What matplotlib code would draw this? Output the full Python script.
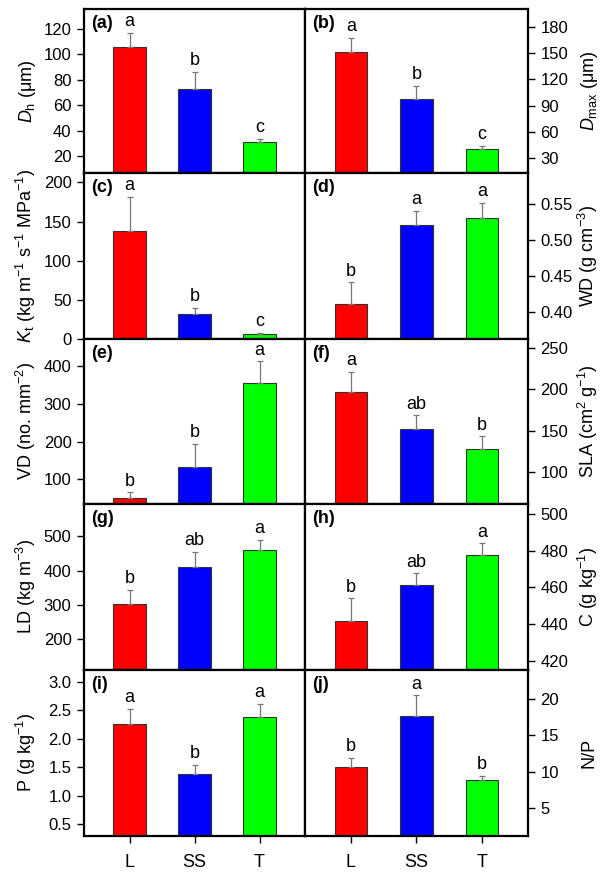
import numpy as np
import matplotlib
matplotlib.use('Agg')
import matplotlib.pyplot as plt

plt.rcParams['font.family'] = ['Liberation Sans', 'DejaVu Sans']
plt.rcParams['mathtext.fontset'] = 'custom'
plt.rcParams['mathtext.rm'] = 'Liberation Sans'
plt.rcParams['mathtext.it'] = 'Liberation Sans:italic'
plt.rcParams['mathtext.bf'] = 'Liberation Sans:bold'

# ─────────────────────────────────────────
# 데이터 (평균, 표준오차, 유의성 문자)
# ─────────────────────────────────────────
GROUPS = ['L', 'SS', 'T']
COLORS = ['#ff0000', '#0000ff', '#00ff00']

dh_mean,   dh_se   = [105.5, 73.0, 31.0], [11.5, 13.0, 2.4]
dmax_mean, dmax_se = [151.5, 97.5, 41.0], [16.0, 14.5, 2.7]
kt_mean,   kt_se   = [138.0, 32.0, 6.0], [43.0, 8.0, 1.7]
wd_mean,   wd_se   = [0.411, 0.521, 0.531], [0.030, 0.020, 0.021]
vd_mean,   vd_se   = [50.0, 133.0, 357.0], [15.0, 60.0, 56.0]
sla_mean,  sla_se  = [197.0, 152.0, 127.5], [24.0, 16.5, 15.5]
ld_mean,   ld_se   = [304.0, 411.0, 461.0], [40.0, 44.0, 28.0]
c_mean,    c_se    = [442.0, 461.6, 477.7], [12.0, 6.0, 6.3]
p_mean,    p_se    = [2.27, 1.39, 2.38], [0.26, 0.15, 0.23]
np_mean,   np_se   = [10.6, 17.65, 8.8], [1.25, 2.9, 0.65]

dh_sig   = ['a', 'b', 'c']
dmax_sig = ['a', 'b', 'c']
kt_sig   = ['a', 'b', 'c']
wd_sig   = ['b', 'a', 'a']
vd_sig   = ['b', 'b', 'a']
sla_sig  = ['a', 'ab', 'b']
ld_sig   = ['b', 'ab', 'a']
c_sig    = ['b', 'ab', 'a']
p_sig    = ['a', 'b', 'a']
np_sig   = ['b', 'a', 'b']

# (패널, 평균, 오차, 문자, y라벨, ylim, yticks)
PANELS = [
    ('(a)', dh_mean, dh_se, dh_sig, r'$\it{D}_{\rm h}$ (μm)', (6.6, 135.7), np.arange(20, 121, 20)),
    ('(b)', dmax_mean, dmax_se, dmax_sig, r'$\it{D}_{\rm max}$ (μm)', (13.2, 200), np.arange(30, 181, 30)),
    ('(c)', kt_mean, kt_se, kt_sig, r'$\it{K}_{\rm t}$ (kg m$^{-1}$ s$^{-1}$ MPa$^{-1}$)', (0, 212), np.arange(0, 201, 50)),
    ('(d)', wd_mean, wd_se, wd_sig, r'WD (g cm$^{-3}$)', (0.362, 0.594), [0.40, 0.45, 0.50, 0.55]),
    ('(e)', vd_mean, vd_se, vd_sig, r'VD (no. mm$^{-2}$)', (34.4, 472.5), np.arange(100, 401, 100)),
    ('(f)', sla_mean, sla_se, sla_sig, r'SLA (cm$^{2}$ g$^{-1}$)', (61.2, 261), np.arange(100, 251, 50)),
    ('(g)', ld_mean, ld_se, ld_sig, r'LD (kg m$^{-3}$)', (110.6, 594), np.arange(200, 501, 100)),
    ('(h)', c_mean, c_se, c_sig, r'C (g kg$^{-1}$)', (415.1, 505.4), np.arange(420, 501, 20)),
    ('(i)', p_mean, p_se, p_sig, r'P (g kg$^{-1}$)', (0.294, 3.21), [0.5, 1.0, 1.5, 2.0, 2.5, 3.0]),
    ('(j)', np_mean, np_se, np_sig, 'N/P', (1.08, 24.06), [5, 10, 15, 20]),
]
TICK_FMT = {'(d)': '{:.2f}', '(i)': '{:.1f}'}

# ─────────────────────────────────────────
# 레이아웃 (픽셀 기준)
# ─────────────────────────────────────────
W, H = 600, 872
X_EDGES = [84, 305, 528]
Y_EDGES = [9, 173, 339, 504, 670, 836]
LABEL_BASE_X = [32, 594]     # y라벨 기준선 위치 (px)
FS_TICK, FS_LABEL, FS_TEXT = 12, 13, 13

fig = plt.figure(figsize=(W / 100, H / 100), dpi=100)
x = np.arange(len(GROUPS))

for k, (tag, mean, se, sig, ylabel, ylim, yticks) in enumerate(PANELS):
    row, col = divmod(k, 2)
    x0, x1 = X_EDGES[col], X_EDGES[col + 1]
    y0, y1 = Y_EDGES[row], Y_EDGES[row + 1]
    ax = fig.add_axes([x0 / W, 1 - y1 / H, (x1 - x0) / W, (y1 - y0) / H])

    ax.bar(x, mean, width=0.5, color=COLORS, edgecolor='#333333', linewidth=0.8, zorder=2)
    ax.errorbar(x, mean, yerr=[np.zeros(3), se], fmt='none', ecolor='#777777',
                elinewidth=0.9, capsize=2.5, capthick=0.9, zorder=3)

    for xi, m, s, letter in zip(x, mean, se, sig):
        ax.annotate(letter, xy=(xi, m + s), xytext=(0, 2), textcoords='offset points',
                    ha='center', va='bottom', fontsize=FS_TEXT)

    ax.text(0.03, 0.965, tag, transform=ax.transAxes, ha='left', va='top',
            fontsize=FS_TEXT, fontweight='bold')

    ax.set_xlim(-0.7, 2.7)
    ax.set_ylim(*ylim)
    ax.set_yticks(yticks)
    fmt = TICK_FMT.get(tag, '{:g}')
    ax.set_yticklabels([fmt.format(t) for t in yticks])

    if col == 1:
        ax.yaxis.tick_right()
        ax.yaxis.set_label_position('right')
    ax.set_ylabel(ylabel, fontsize=FS_LABEL, rotation=90)
    lab = ax.yaxis.label
    lab.set_rotation_mode('anchor')
    lab.set_ha('center')
    lab.set_va('baseline')
    ax.yaxis.set_label_coords((LABEL_BASE_X[col] - x0) / (x1 - x0), 0.5)

    ax.tick_params(axis='y', direction='out', length=5, width=1.0,
                   labelsize=FS_TICK, pad=4)

    if row == 4:
        ax.set_xticks(x)
        ax.set_xticklabels(GROUPS)
        ax.tick_params(axis='x', direction='out', length=5, width=1.0,
                       labelsize=FS_TEXT, pad=8)
    else:
        ax.set_xticks([])

    for sp in ax.spines.values():
        sp.set_linewidth(1.6)

plt.savefig('out.png', dpi=100)
